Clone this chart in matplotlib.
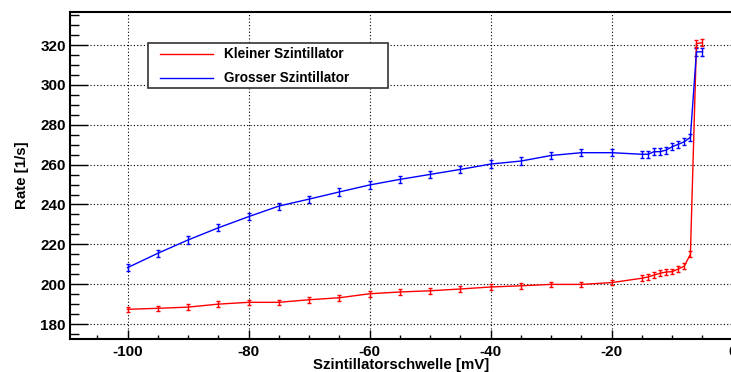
import matplotlib
matplotlib.use("Agg")
import matplotlib.pyplot as plt
from matplotlib.ticker import MultipleLocator
from matplotlib.patches import Rectangle
from matplotlib.lines import Line2D

plt.rcParams['font.family'] = ['Liberation Sans', 'DejaVu Sans']
plt.rcParams['font.weight'] = 'bold'
plt.rcParams['axes.unicode_minus'] = False

# ---- data ----
schwelle = [-100, -95, -90, -85, -80, -75, -70, -65, -60, -55, -50, -45, -40,
            -35, -30, -25, -20, -15, -14, -13, -12, -11, -10, -9, -8, -7, -6, -5]
klein = [187.4, 187.9, 188.5, 190.0, 190.9, 190.9, 192.2, 193.2, 195.2, 196.1,
         196.7, 197.6, 198.6, 199.2, 199.9, 199.9, 200.8, 203.0, 203.6, 204.6,
         205.5, 206.1, 206.3, 207.6, 209.1, 215.0, 320.8, 321.2]
klein_err = [1.4, 1.4, 1.4, 1.4, 1.4, 1.4, 1.4, 1.4, 1.4, 1.4, 1.4, 1.4, 1.4,
             1.4, 1.4, 1.4, 1.4, 1.4, 1.4, 1.4, 1.4, 1.4, 1.4, 1.4, 1.4, 1.5,
             1.8, 1.8]
gross = [208.3, 215.5, 222.2, 228.3, 233.9, 239.2, 242.7, 246.3, 249.8, 252.6,
         255.1, 257.6, 260.3, 261.8, 264.6, 266.0, 266.0, 265.2, 265.2, 266.5,
         266.5, 267.3, 269.0, 270.2, 271.5, 273.7, 316.6, 316.6]
gross_err = [1.8, 1.8, 1.8, 1.8, 1.8, 1.8, 1.8, 1.8, 1.8, 1.8, 1.8, 1.8, 1.8,
             1.8, 1.8, 1.8, 1.8, 1.8, 1.8, 1.8, 1.8, 1.8, 1.8, 1.8, 1.8, 1.9,
             2.1, 2.1]
labels = ["Kleiner Szintillator", "Grosser Szintillator"]
colors = ['#ff0000', '#0000ff']

W, H = 731, 372
fig = plt.figure(figsize=(W / 100, H / 100), dpi=100)
left, right, top, bottom = 70, 760, 12, 339
ax = fig.add_axes([left / W, 1 - bottom / H, (right - left) / W, (bottom - top) / H])

for yv, ye, c in ((klein, klein_err, colors[0]), (gross, gross_err, colors[1])):
    ax.errorbar(schwelle, yv, yerr=ye, color=c, lw=1.0,
                elinewidth=1.0, capsize=1.5, capthick=1.0)

ax.set_xlim(-109.5, 4.5)
ax.set_ylim(172.5, 336.6)

ax.xaxis.set_major_locator(MultipleLocator(20))
ax.xaxis.set_minor_locator(MultipleLocator(5))
ax.yaxis.set_major_locator(MultipleLocator(20))
ax.yaxis.set_minor_locator(MultipleLocator(5))

ax.grid(True, which='major', color='black', linestyle=(0, (1, 2)), linewidth=0.8)
ax.set_axisbelow(True)

ax.tick_params(axis='x', which='major', direction='in', length=6.5, width=1.0,
               pad=4.0, labelsize=11)
ax.tick_params(axis='x', which='minor', direction='in', length=3.2, width=1.0)
ax.tick_params(axis='y', which='major', direction='in', length=13, width=1.0,
               pad=3.0, labelsize=11)
ax.tick_params(axis='y', which='minor', direction='in', length=6.5, width=1.0)
for lab in ax.get_xticklabels() + ax.get_yticklabels():
    lab.set_fontweight('bold')

for s in ax.spines.values():
    s.set_linewidth(1.5)

fig.text(401 / W, 1 - 365 / H, "Szintillatorschwelle [mV]", ha='center',
         va='center', fontsize=10.8, fontweight='bold')
fig.text(22 / W, 1 - 175 / H, "Rate [1/s]", ha='center', va='center',
         rotation=90, fontsize=10.8, fontweight='bold')

# legend box (drawn in figure pixel coordinates)
def fx(px):
    return px / W

def fy(py):
    return 1 - py / H

lx0, ly0, lx1, ly1 = 148, 43, 388, 88
fig.patches.append(Rectangle((fx(lx0), fy(ly1)), fx(lx1) - fx(lx0), fy(ly0) - fy(ly1),
                             transform=fig.transFigure, facecolor='white',
                             edgecolor='#333333', linewidth=1.2, zorder=5))
for i, (lab, c) in enumerate(zip(labels, colors)):
    yrow = 54 + i * 24
    fig.lines.append(Line2D([fx(160), fx(213)], [fy(yrow), fy(yrow)], color=c,
                            lw=1.0, transform=fig.transFigure, zorder=6))
    fig.text(fx(224), fy(yrow), lab, ha='left', va='center', fontsize=9.8,
             fontweight='bold', zorder=6)

fig.savefig("out.png", dpi=100)
